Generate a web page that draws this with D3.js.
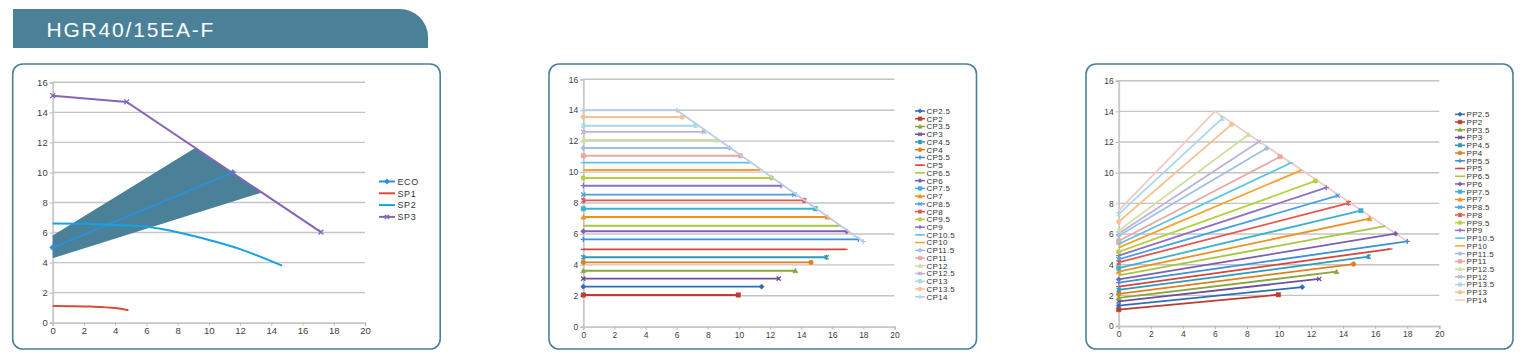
<!DOCTYPE html>
<html><head><meta charset="utf-8">
<script src="https://cdn.jsdelivr.net/npm/d3@7"></script>
<style>
html,body{margin:0;padding:0;background:#fff;}
svg{display:block;}
text{font-family:"Liberation Sans",Arial,sans-serif;}
</style></head>
<body>
<script>
// ---------------- DATA ----------------
const title = "HGR40/15EA-F";
const xTicks = [0,2,4,6,8,10,12,14,16,18,20];
const yTicks = [0,2,4,6,8,10,12,14,16];

// Chart 1
const ecoX = [0, 11.54], ecoY = [5.0, 10.0];
const sp1X = [0, 2.5, 4, 4.85], sp1Y = [1.11, 1.07, 0.98, 0.83];
const sp2X = [0, 2, 4, 6, 8, 10, 12, 14.68], sp2Y = [6.6, 6.58, 6.51, 6.38, 6.02, 5.51, 4.9, 3.8];
const sp3X = [0, 4.74, 17.18], sp3Y = [15.11, 14.69, 6.03];
const bandX = [0, 0, 9.12, 13.4], bandY = [4.29, 5.8, 11.63, 8.67];
const chart1Names = ["ECO", "SP1", "SP2", "SP3"];

// Chart 2 (constant pressure)
const cpNames = ["CP2.5","CP2","CP3.5","CP3","CP4.5","CP4","CP5.5","CP5","CP6.5","CP6","CP7.5","CP7","CP8.5","CP8","CP9.5","CP9","CP10.5","CP10","CP11.5","CP11","CP12","CP12.5","CP13","CP13.5","CP14"];
const cpLevel = [2.59,2.05,3.62,3.11,4.49,4.16,5.65,5.0,6.53,6.17,7.63,7.09,8.54,8.17,9.62,9.12,10.61,10.13,11.56,11.06,12.07,12.6,13.0,13.56];
const cpEndX  = [11.46,9.96,13.63,12.56,15.64,14.63,17.68,16.82,16.5,16.93,14.91,15.69,13.56,14.21,12.09,12.71,10.69,11.36,9.39,10.09,8.57,7.76,7.22,6.36];
const cp14X = [0, 6, 18], cp14Y = [14, 14, 5.5];

// Chart 3 (proportional pressure)
const ppNames = ["PP2.5","PP2","PP3.5","PP3","PP4.5","PP4","PP5.5","PP5","PP6.5","PP6","PP7.5","PP7","PP8.5","PP8","PP9.5","PP9","PP10.5","PP10","PP11.5","PP11","PP12.5","PP12","PP13.5","PP13","PP14"];
const ppStartY = [1.33,1.07,1.83,1.6,2.35,2.09,2.83,2.57,3.3,3.04,3.78,3.54,4.35,4.15,4.83,4.59,5.35,5.11,5.89,5.54,6.22,6.04,7.3,6.8];
const ppEndX   = [11.45,9.96,13.59,12.51,15.59,14.65,18.0,16.92,16.63,17.27,15.11,15.65,13.66,14.34,12.28,12.95,10.73,11.41,9.23,10.06,8.09,8.75,6.46,7.05];
const ppEndY   = [2.54,2.04,3.54,3.07,4.52,4.04,5.52,5.02,6.52,6.02,7.52,7.0,8.5,8.02,9.46,9.02,10.63,10.17,11.59,11.04,12.48,12.02,13.54,13.15];
const pp14X = [0, 6, 18], pp14Y = [7.52, 14, 5.52];

// ---------------- STYLE ----------------
const palette = ["#2f6db4","#be3b32","#8aa63c","#6b519e","#2d9bb7","#e37d1c",
  "#3d8fd6","#d8443d","#a6c541","#7d5fb2","#3eb1cf","#f2901f",
  "#4aa0e6","#e5564f","#b5d13f","#8d72bf","#5ec3df","#f8a02b",
  "#a0bfe6","#e8a9a3","#cddf9e","#bcb2da","#a9d9e6","#f9c190"];
const markerCycle = ["diamond","square","triangle","x","star","circle","plus","dash","none"];
const teal = "#4a8199";

const svg = d3.select("body").append("svg").attr("width",1525).attr("height",364);
svg.append("rect").attr("width",1525).attr("height",364).attr("fill","#fff");

// Banner
svg.append("path")
  .attr("d","M13,9 H400 A28,28 0 0 1 428,37 V48 H13 Z")
  .attr("fill",teal);
svg.append("text").attr("x",46.5).attr("y",37).attr("fill","#fff")
  .attr("font-size",21).attr("letter-spacing",1.8).text(title);

// Panels
[[12.7,64,427.5,285],[549,64,427.5,285],[1086,64,427,285]].forEach(p=>{
  svg.append("rect").attr("x",p[0]).attr("y",p[1]).attr("width",p[2]).attr("height",p[3])
    .attr("rx",10).attr("fill","none").attr("stroke",teal).attr("stroke-width",1.6);
});

function markerPath(type, r){
  switch(type){
    case "diamond": return `M0,${-r}L${r},0L0,${r}L${-r},0Z`;
    case "square": return `M${-r*0.85},${-r*0.85}H${r*0.85}V${r*0.85}H${-r*0.85}Z`;
    case "triangle": return `M0,${-r}L${r},${r*0.8}L${-r},${r*0.8}Z`;
    case "x": return `M${-r*0.8},${-r*0.8}L${r*0.8},${r*0.8}M${-r*0.8},${r*0.8}L${r*0.8},${-r*0.8}`;
    case "star": return `M${-r*0.8},${-r*0.8}L${r*0.8},${r*0.8}M${-r*0.8},${r*0.8}L${r*0.8},${-r*0.8}M0,${-r}L0,${r}`;
    case "circle": return d3.symbol(d3.symbolCircle, Math.PI*r*r*0.8)();
    case "plus": return `M${-r},0L${r},0M0,${-r}L0,${r}`;
    case "dash": return `M${-r},0L${r},0`;
    default: return null;
  }
}
const filledTypes = new Set(["diamond","square","triangle","circle"]);
function drawMarker(g, type, cx, cy, r, color){
  const d = markerPath(type, r);
  if(!d) return;
  const p = g.append("path").attr("d",d).attr("transform",`translate(${cx},${cy})`);
  if(filledTypes.has(type)) p.attr("fill",color).attr("stroke",color).attr("stroke-width",0.5);
  else p.attr("fill","none").attr("stroke",color).attr("stroke-width",1.3);
}

function makeFrame(xr, yr, fs){
  const x = d3.scaleLinear().domain([0,20]).range(xr);
  const y = d3.scaleLinear().domain([0,16]).range(yr);
  const g = svg.append("g");
  g.append("g").selectAll("line").data(yTicks.filter(v=>v>0)).join("line")
    .attr("x1",x(0)).attr("x2",x(20)).attr("y1",d=>y(d)).attr("y2",d=>y(d))
    .attr("stroke","#c4c4c4").attr("stroke-width",1.4);
  const ax = g.append("g").attr("transform",`translate(0,${y(0)})`)
    .call(d3.axisBottom(x).tickValues(xTicks).tickSize(3).tickPadding(2).tickFormat(d3.format("d")));
  const ay = g.append("g").attr("transform",`translate(${x(0)},0)`)
    .call(d3.axisLeft(y).tickValues(yTicks).tickSize(3).tickPadding(2).tickFormat(d3.format("d")));
  [ax,ay].forEach(a=>{
    a.select(".domain").attr("stroke","#c8c8c8").attr("stroke-width",1.8);
    a.selectAll(".tick line").attr("stroke","#b8b8b8");
    a.selectAll("text").attr("font-size",fs).attr("fill","#404040").attr("font-family","Liberation Sans, Arial, sans-serif");
  });
  return {x,y,g};
}

// ---------------- CHART 1 ----------------
(function(){
  const {x,y,g} = makeFrame([52.7,365],[322.7,82.3],9.5);
  const band = bandX.map((v,i)=>[x(v),y(bandY[i])]);
  g.append("path").attr("d","M"+band.join("L")+"Z").attr("fill",teal);
  const line = d3.line().x(d=>x(d[0])).y(d=>y(d[1]));
  const smooth = d3.line().x(d=>x(d[0])).y(d=>y(d[1])).curve(d3.curveCatmullRom.alpha(0.5));
  const series = [
    {n:"ECO", pts:ecoX.map((v,i)=>[v,ecoY[i]]), c:"#2f8fd6", m:"diamond", gen:line},
    {n:"SP1", pts:sp1X.map((v,i)=>[v,sp1Y[i]]), c:"#dd4a3c", m:"none", gen:smooth},
    {n:"SP2", pts:sp2X.map((v,i)=>[v,sp2Y[i]]), c:"#16a2e2", m:"none", gen:smooth},
    {n:"SP3", pts:sp3X.map((v,i)=>[v,sp3Y[i]]), c:"#8565b6", m:"x", gen:line}
  ];
  series.forEach(s=>{
    g.append("path").attr("d",s.gen(s.pts)).attr("fill","none").attr("stroke",s.c).attr("stroke-width",2);
    s.pts.forEach(p=>drawMarker(g,s.m,x(p[0]),y(p[1]),3,s.c));
  });
  const lg = svg.append("g");
  chart1Names.forEach((n,i)=>{
    const s = series[i]; const yy = 181.5 + i*11.8;
    lg.append("line").attr("x1",379).attr("x2",395).attr("y1",yy).attr("y2",yy).attr("stroke",s.c).attr("stroke-width",2);
    drawMarker(lg,s.m,387,yy,2.7,s.c);
    lg.append("text").attr("x",397.5).attr("y",yy+3.3).attr("font-size",9).attr("fill","#333").attr("letter-spacing",0.6).text(n);
  });
})();

// ---------------- CHART 2 ----------------
(function(){
  const {x,y,g} = makeFrame([583.3,894.5],[326.7,79.3],8.5);
  const line = d3.line().x(d=>x(d[0])).y(d=>y(d[1]));
  const series = cpNames.map((n,i)=>{
    if(i<24) return {n, pts:[[0,cpLevel[i]],[cpEndX[i],cpLevel[i]]], c:palette[i], m:markerCycle[i%9]};
    return {n, pts:cp14X.map((v,k)=>[v,cp14Y[k]]), c:"#bccde6", m:"plus"};
  });
  series.forEach(s=>{
    g.append("path").attr("d",line(s.pts)).attr("fill","none").attr("stroke",s.c).attr("stroke-width",1.9);
    s.pts.forEach(p=>drawMarker(g,s.m,x(p[0]),y(p[1]),2.6,s.c));
  });
  const lg = svg.append("g");
  series.forEach((s,i)=>{
    const yy = 111 + i*7.74;
    lg.append("line").attr("x1",915).attr("x2",925).attr("y1",yy).attr("y2",yy).attr("stroke",s.c).attr("stroke-width",1.5);
    drawMarker(lg,s.m,920,yy,2.2,s.c);
    lg.append("text").attr("x",926.5).attr("y",yy+2.9).attr("font-size",8).attr("fill","#333").attr("letter-spacing",0.3).text(s.n);
  });
})();

// ---------------- CHART 3 ----------------
(function(){
  const {x,y,g} = makeFrame([1118.7,1439.3],[326,80.7],8.5);
  const line = d3.line().x(d=>x(d[0])).y(d=>y(d[1]));
  const series = ppNames.map((n,i)=>{
    if(i<24) return {n, pts:[[0,ppStartY[i]],[ppEndX[i],ppEndY[i]]], c:palette[i], m:markerCycle[i%9]};
    return {n, pts:pp14X.map((v,k)=>[v,pp14Y[k]]), c:"#f0cbc3", m:"none"};
  });
  series.slice().reverse().forEach(s=>{
    g.append("path").attr("d",line(s.pts)).attr("fill","none").attr("stroke",s.c).attr("stroke-width",1.8);
    s.pts.forEach(p=>drawMarker(g,s.m,x(p[0]),y(p[1]),2.6,s.c));
  });
  const lg = svg.append("g");
  series.forEach((s,i)=>{
    const yy = 114.3 + i*7.74;
    lg.append("line").attr("x1",1455).attr("x2",1465).attr("y1",yy).attr("y2",yy).attr("stroke",s.c).attr("stroke-width",1.5);
    drawMarker(lg,s.m,1460,yy,2.2,s.c);
    lg.append("text").attr("x",1466.5).attr("y",yy+2.9).attr("font-size",8).attr("fill","#333").attr("letter-spacing",0.3).text(s.n);
  });
})();
</script>
</body></html>
